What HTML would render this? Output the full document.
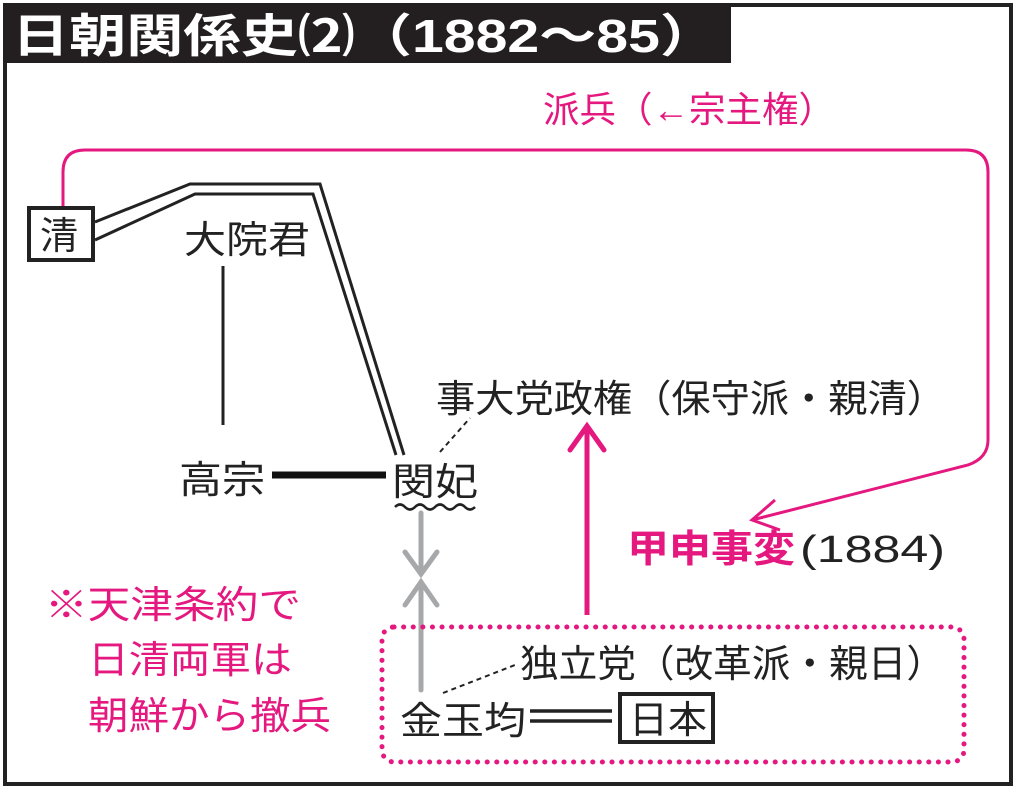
<!DOCTYPE html>
<html><head><meta charset="utf-8"><style>
body{margin:0;background:#fff}
svg text{font-family:"Liberation Sans","Noto Sans CJK JP",sans-serif}
</style></head><body>
<svg width="1017" height="790" viewBox="0 0 1017 790" xmlns="http://www.w3.org/2000/svg">
<rect x="5" y="5" width="1006" height="779" fill="#fff" stroke="#222" stroke-width="4"/>
<rect x="3" y="3" width="728" height="60" fill="#231f20"/>
<text x="12" y="52" font-size="46" font-weight="bold" fill="#fff" textLength="705" lengthAdjust="spacingAndGlyphs">日朝関係史⑵（1882～85）</text>

<text x="543" y="122" font-size="36" fill="#e4187f" textLength="292" lengthAdjust="spacingAndGlyphs">派兵（←宗主権）</text>
<path d="M63,207 V172 Q63,150 85,150 H966 Q988,150 988,172 V440 Q988,458 968,465 L752,520" fill="none" stroke="#e4187f" stroke-width="3"/>
<path d="M775,500 L752,520 L780,530" fill="none" stroke="#e4187f" stroke-width="3"/>

<rect x="29" y="208" width="64" height="52" fill="#fff" stroke="#222" stroke-width="4"/>
<text x="40" y="249" font-size="38" fill="#222">清</text>

<path d="M95,222 L190,184 H320 L404,455" fill="none" stroke="#222" stroke-width="3"/>
<path d="M95,240 L195,194 H313 L396,455" fill="none" stroke="#222" stroke-width="3"/>

<text x="184" y="253" font-size="38" fill="#222" textLength="126" lengthAdjust="spacingAndGlyphs">大院君</text>
<line x1="223" y1="266" x2="223" y2="425" stroke="#222" stroke-width="3"/>
<text x="179" y="493" font-size="38" fill="#222" textLength="86" lengthAdjust="spacingAndGlyphs">高宗</text>
<line x1="272" y1="475" x2="386" y2="475" stroke="#111" stroke-width="7"/>
<text x="392" y="495" font-size="38" fill="#222" textLength="86" lengthAdjust="spacingAndGlyphs">閔妃</text>
<path d="M395,507 q5,-5 10,0 t10,0 t10,0 t10,0 t10,0 t10,0 t10,0 t10,0" fill="none" stroke="#222" stroke-width="2.5"/>
<line x1="440" y1="452" x2="470" y2="418" stroke="#222" stroke-width="2" stroke-dasharray="5,4"/>
<text x="436" y="412" font-size="38" fill="#222" textLength="510" lengthAdjust="spacingAndGlyphs">事大党政権（保守派・親清）</text>

<line x1="587" y1="615" x2="587" y2="428" stroke="#e4187f" stroke-width="5"/>
<path d="M570,450 L587,426 L604,450" fill="none" stroke="#e4187f" stroke-width="5" stroke-linecap="round"/>
<text x="627" y="562" font-size="38" font-weight="bold" fill="#e4187f" textLength="168" lengthAdjust="spacingAndGlyphs">甲申事変</text>
<text x="800" y="562" font-size="38" fill="#222" textLength="145" lengthAdjust="spacingAndGlyphs">(1884)</text>

<g stroke="#a7a8aa" stroke-width="5" fill="none" stroke-linecap="round">
<line x1="421" y1="513" x2="421" y2="573"/>
<path d="M405,552 L421,574 L437,552"/>
<line x1="421" y1="582" x2="421" y2="690"/>
<path d="M405,605 L421,582 L437,605"/>
</g>

<rect x="382" y="627" width="582" height="135" rx="12" fill="none" stroke="#e4187f" stroke-width="5" stroke-dasharray="0.1,9.5" stroke-linecap="round"/>
<text x="520" y="677" font-size="38" fill="#222" textLength="425" lengthAdjust="spacingAndGlyphs">独立党（改革派・親日）</text>
<line x1="443" y1="693" x2="515" y2="665" stroke="#222" stroke-width="2" stroke-dasharray="5,4"/>
<text x="400" y="734" font-size="38" fill="#222" textLength="126" lengthAdjust="spacingAndGlyphs">金玉均</text>
<line x1="530" y1="711" x2="612" y2="711" stroke="#222" stroke-width="3.5"/>
<line x1="530" y1="721" x2="612" y2="721" stroke="#222" stroke-width="3.5"/>
<rect x="620" y="694" width="93" height="48" fill="#fff" stroke="#222" stroke-width="4"/>
<text x="629" y="733" font-size="38" fill="#222" textLength="78" lengthAdjust="spacingAndGlyphs">日本</text>

<g font-size="38" fill="#e4187f">
<text x="45" y="618" textLength="256" lengthAdjust="spacingAndGlyphs">※天津条約で</text>
<text x="88" y="673" textLength="204" lengthAdjust="spacingAndGlyphs">日清両軍は</text>
<text x="88" y="729" textLength="243" lengthAdjust="spacingAndGlyphs">朝鮮から撤兵</text>
</g>
</svg>
</body></html>
